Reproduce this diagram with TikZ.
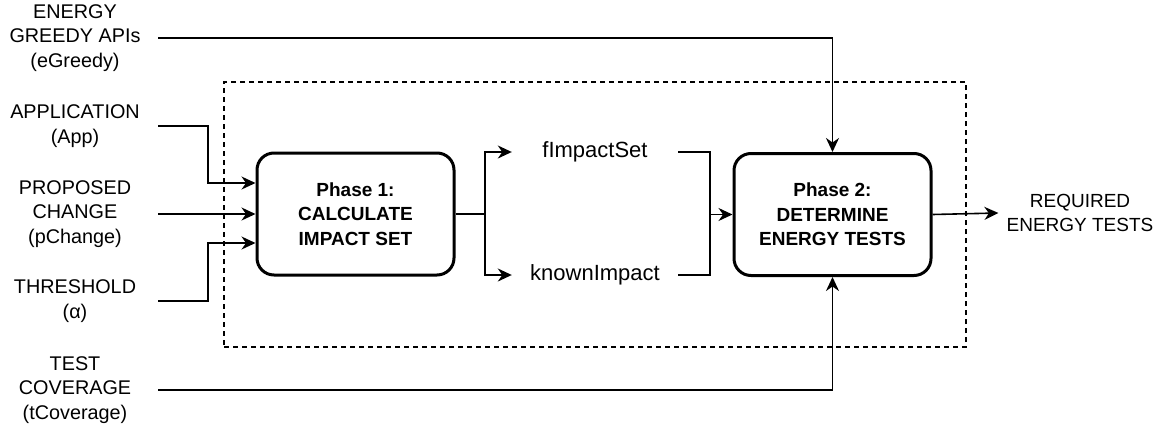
\documentclass[tikz,border=0pt]{standalone}
\usepackage{fontspec}
\setmainfont{Liberation Sans}
\usetikzlibrary{arrows.meta}
\tikzset{
  phasebox/.style={draw, line width=3pt, rounded corners=17pt, minimum width=197pt,
    minimum height=122pt, align=center, inner sep=0pt,
    font=\fontsize{19}{24.5}\selectfont\bfseries},
  inlabel/.style={align=center, minimum width=166pt, inner sep=0pt,
    font=\fontsize{19.8}{24.5}\selectfont},
  midlabel/.style={minimum width=166pt, inner sep=0pt, font=\fontsize{22}{26}\selectfont},
  outlabel/.style={align=center, inner xsep=8pt, inner ysep=0pt,
    font=\fontsize{19}{24.5}\selectfont},
  wire/.style={line width=1.6pt},
  arr/.style={wire, -{Stealth[length=14pt, width=13pt, inset=4.5pt]}},
  groupbox/.style={draw, line width=1.4pt, dash pattern=on 5pt off 4pt,
    minimum width=742pt, minimum height=265pt, inner sep=0pt}
}
\begin{document}
\begin{tikzpicture}[x=1pt, y=-1pt]
  \useasboundingbox (0,0) rectangle (1168,429);

  % grouping frame around the two phases
  \node[groupbox] (grp) at (595,214.5) {};

  % phases
  \node[phasebox] (p1) at (355.5,214) {Phase 1:\\CALCULATE\\IMPACT SET};
  \node[phasebox] (p2) at (832.5,214.5) {Phase 2:\\DETERMINE\\ENERGY TESTS};

  % inputs
  \node[inlabel] (eg)  at (75,38)  {ENERGY\\GREEDY APIs\\(eGreedy)};
  \node[inlabel] (app) at (75,126) {APPLICATION\\(App)};
  \node[inlabel] (pc)  at (75,214) {PROPOSED\\CHANGE\\(pChange)};
  \node[inlabel] (th)  at (75,301) {THRESHOLD\\(α)};
  \node[inlabel] (tc)  at (75,390) {TEST\\COVERAGE\\(tCoverage)};

  % intermediate results
  \node[midlabel] (fis) at (595,152) {fImpactSet};
  \node[midlabel] (ki)  at (595,275) {knownImpact};

  % output
  \node[outlabel] (out) at (1080,213) {REQUIRED\\ENERGY TESTS};

  % routing points
  \coordinate (split) at (485,214);
  \coordinate (merge) at (710,214.5);

  % input connectors
  \draw[arr] (eg.east) -| (p2.north);
  \draw[arr] (app.east) -- ++(50,0) |- ([yshift=31pt]p1.west);
  \draw[arr] (pc.east) -- (p1.west);
  \draw[arr] (th.east) -- ++(50,0) |- ([yshift=-29pt]p1.west);
  \draw[arr] (tc.east) -| (p2.south);

  % phase 1 to phase 2
  \draw[wire] (p1.east) -- (split);
  \draw[arr] (split) |- (fis.west);
  \draw[arr] (split) |- (ki.west);
  \draw[wire] (fis.east) -| (merge);
  \draw[wire] (ki.east) -| (merge);
  \draw[arr] (merge) -- (p2.west);

  % result
  \draw[arr] (p2.east) -- (out.west);
\end{tikzpicture}
\end{document}
